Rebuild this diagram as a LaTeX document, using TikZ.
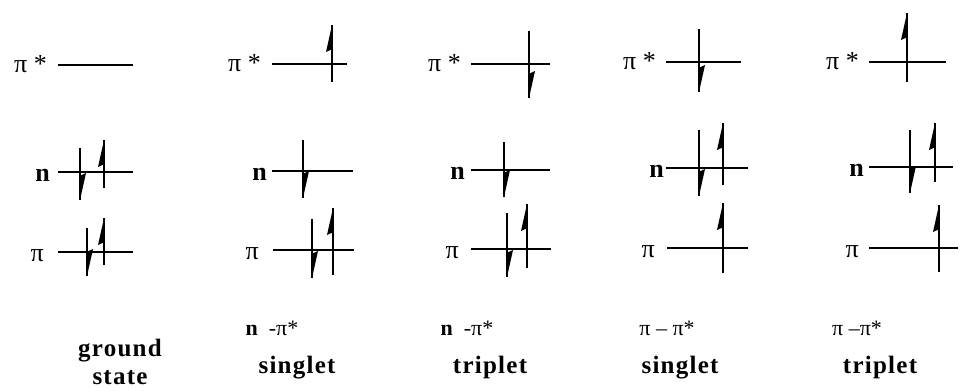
\documentclass[tikz,border=0pt]{standalone}
\usepackage{fontspec}
\setmainfont{Liberation Serif}
\newfontfamily\lblfont[LetterSpace=5]{Liberation Serif}
\newcommand\uparr[3]{% x, bottom, top
  \draw[elec] (#1,#2) -- (#1,#3);
  \fill ({#1},{#3}) -- ({#1-6},{#3+27}) -- ({#1+0.5},{#3+24}) -- cycle;}
\newcommand\dnarr[3]{% x, top, bottom
  \draw[elec] (#1,#2) -- (#1,#3);
  \fill ({#1},{#3}) -- ({#1+6},{#3-27}) -- ({#1-0.5},{#3-24}) -- cycle;}
\begin{document}
\begin{tikzpicture}[x=1pt,y=-1pt,
  level/.style={line width=1.4pt},
  elec/.style={line width=1.8pt},
  orb/.style={font=\fontsize{26}{26}\selectfont, inner sep=0pt, anchor=base east},
  nlbl/.style={font=\fontsize{26}{26}\selectfont\bfseries, inner sep=0pt, anchor=base east},
  statelbl/.style={font=\lblfont\bfseries\fontsize{25}{25}\selectfont, inner sep=0pt, anchor=base},
  trans/.style={font=\fontsize{22}{22}\selectfont, inner sep=0pt, anchor=base}]
\useasboundingbox (0,0) rectangle (968,391);

% ---------- column 1: ground state ----------
\node[orb] (c1ps) at (47,72) {π *};
\draw[level] (58,65) -- (133,65);
\node[nlbl] (c1n) at (50,181) {n};
\draw[level] (58,172) -- (133,172);
\dnarr{80}{148}{200}
\uparr{104}{188}{140}
\node[orb] (c1p) at (44,261) {π};
\draw[level] (58,252) -- (133,252);
\dnarr{87}{228}{276}
\uparr{104}{265}{218}

% ---------- column 2: n-pi* singlet ----------
\node[orb] (c2ps) at (261,71) {π *};
\draw[level] (272,64) -- (347,64);
\uparr{332}{82}{25}
\node[nlbl] (c2n) at (267,180) {n};
\draw[level] (272,171) -- (353,171);
\dnarr{303}{140}{198}
\node[orb] (c2p) at (259,259) {π};
\draw[level] (273,250) -- (354,250);
\dnarr{312}{219}{278}
\uparr{333}{275}{208}

% ---------- column 3: n-pi* triplet ----------
\node[orb] (c3ps) at (461,71) {π *};
\draw[level] (471,64) -- (550,64);
\dnarr{529}{31}{98}
\node[nlbl] (c3n) at (465,179) {n};
\draw[level] (471,170) -- (550,170);
\dnarr{504}{142}{197}
\node[orb] (c3p) at (459,258) {π};
\draw[level] (471,249) -- (551,249);
\dnarr{507}{213}{277}
\uparr{527}{268}{204}

% ---------- column 4: pi-pi* singlet ----------
\node[orb] (c4ps) at (656,69) {π *};
\draw[level] (666,62) -- (741,62);
\dnarr{699}{29}{92}
\node[nlbl] (c4n) at (664,177) {n};
\draw[level] (666,168) -- (748,168);
\dnarr{699}{130}{196}
\uparr{723}{185}{123}
\node[orb] (c4p) at (655,257) {π};
\draw[level] (667,248) -- (748,248);
\uparr{723}{273}{203}

% ---------- column 5: pi-pi* triplet ----------
\node[orb] (c5ps) at (859,69) {π *};
\draw[level] (869,62) -- (946,62);
\uparr{907}{82}{13}
\node[nlbl] (c5n) at (864,176) {n};
\draw[level] (869,167) -- (953,167);
\dnarr{910}{130}{193}
\uparr{935}{182}{123}
\node[orb] (c5p) at (859,257) {π};
\draw[level] (869,248) -- (958,248);
\uparr{939}{272}{205}

% ---------- captions ----------
\node[trans] (t2) at (272,335) {\textbf{n}\ \ -π*};
\node[trans] (t3) at (467,335) {\textbf{n}\ \ -π*};
\node[trans] (t4) at (667,335) {π – π*};
\node[trans] (t5) at (857,335) {π –π*};
\node[statelbl] (g1) at (120,356) {ground};
\node[statelbl] (g2) at (120,384) {state};
\node[statelbl] (s2) at (297,373) {singlet};
\node[statelbl] (s3) at (490,373) {triplet};
\node[statelbl] (s4) at (680,373) {singlet};
\node[statelbl] (s5) at (880,373) {triplet};
\end{tikzpicture}
\end{document}
